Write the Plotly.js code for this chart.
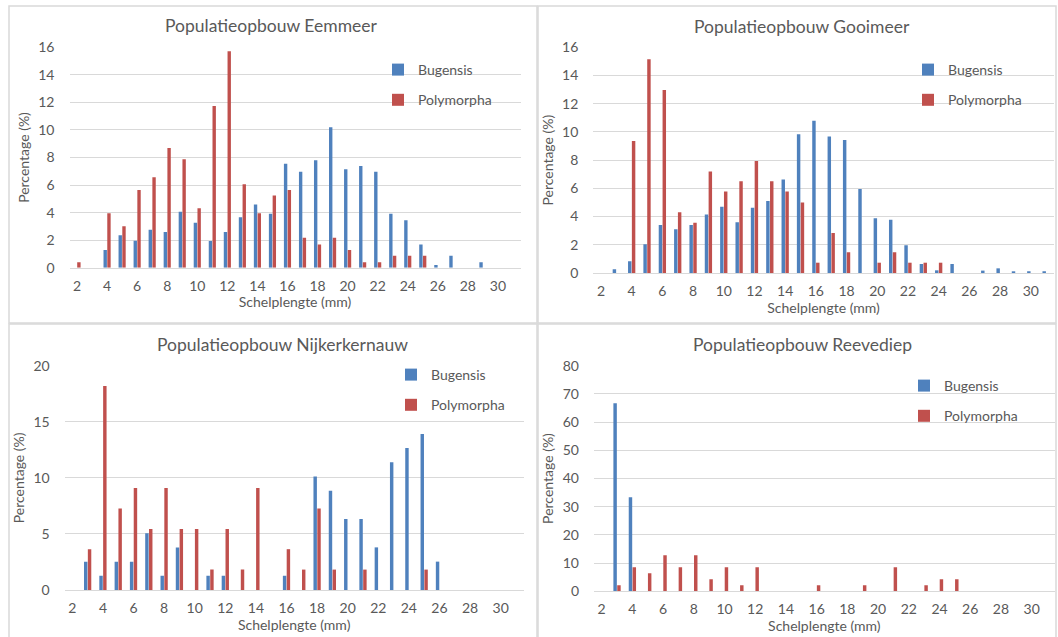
<!DOCTYPE html>
<html>
<head>
<meta charset="utf-8">
<script src="https://cdn.plot.ly/plotly-3.0.1.min.js"></script>
<style>html,body{margin:0;padding:0;background:#fff;}#chart{width:1058px;height:637px;}</style>
</head>
<body>
<div id="chart"></div>
<script>
// Shell length categories (mm)
const lengths = [2,3,4,5,6,7,8,9,10,11,12,13,14,15,16,17,18,19,20,21,22,23,24,25,26,27,28,29,30,31];
const tickLabels = [2,4,6,8,10,12,14,16,18,20,22,24,26,28,30];

// Eemmeer
const eemBugensis   = [0,0,1.28,2.35,1.96,2.76,2.59,4.07,3.27,1.94,2.59,3.66,4.58,3.92,7.55,6.97,7.8,10.19,7.14,7.38,6.97,3.92,3.44,1.69,0.2,0.87,0,0.39,0,0];
const eemPolymorpha = [0.39,0,3.95,3.0,5.64,6.56,8.69,7.87,4.31,11.74,15.71,6.05,3.95,5.25,5.64,2.18,1.69,2.18,1.28,0.39,0.39,0.87,0.87,0.87,0,0,0,0,0,0];

// Gooimeer
const gooBugensis   = [0,0.26,0.83,2.03,3.4,3.1,3.4,4.14,4.7,3.6,4.62,5.1,6.62,9.83,10.8,9.67,9.43,5.96,3.88,3.78,1.96,0.64,0.19,0.64,0,0.17,0.33,0.1,0.1,0.1];
const gooPolymorpha = [0,0,9.36,15.15,12.98,4.3,3.57,7.19,5.78,6.5,7.94,6.5,5.78,5.0,0.73,2.84,1.47,0,0.73,1.47,0.73,0.73,0.73,0,0,0,0,0,0,0];

// Nijkerkernauw
const nijBugensis   = [0,2.53,1.27,2.53,2.53,5.06,1.27,3.8,0,1.27,1.27,0,0,0,1.27,0,10.13,8.86,6.33,6.33,3.8,11.39,12.66,13.92,2.53,0,0,0,0,0];
const nijPolymorpha = [0,3.64,18.18,7.27,9.09,5.45,9.09,5.45,5.45,1.82,5.45,1.82,9.09,0,3.64,1.82,7.27,1.82,0,1.82,0,0,0,1.82,0,0,0,0,0,0];

// Reevediep
const reeBugensis   = [0,66.67,33.33,0,0,0,0,0,0,0,0,0,0,0,0,0,0,0,0,0,0,0,0,0,0,0,0,0,0,0];
const reePolymorpha = [0,2.13,8.51,6.38,12.77,8.51,12.77,4.26,8.51,2.13,8.51,0,0,0,2.13,0,0,2.13,0,8.51,0,2.13,4.26,4.26,0,0,0,0,0,0];

const panelTitles = ['Populatieopbouw Eemmeer','Populatieopbouw Gooimeer','Populatieopbouw Nijkerkernauw','Populatieopbouw Reevediep'];
const seriesNames = ['Bugensis','Polymorpha'];

const W = 1058, H = 637;
const px = v => v / W;
const py = v => 1 - v / H;
const BLUE = '#4F81BD', RED = '#C0504D', TXT = '#595959', GRID = '#D9D9D9';
const FONT = 'Lato, "Open Sans", sans-serif';

const panels = [
  {b: eemBugensis, p: eemPolymorpha, ax: '', x0: 69.5, x1: 520.5, y0: 267.7, y1: 47.3, ymax: 16, dtick: 2, legX: 378, legY: 54},
  {b: gooBugensis, p: gooPolymorpha, ax: '2', x0: 593.3, x1: 1053.8, y0: 273, y1: 47.3, ymax: 16, dtick: 2, legX: 908, legY: 54},
  {b: nijBugensis, p: nijPolymorpha, ax: '3', x0: 64.7, x1: 523.6, y0: 590, y1: 365.7, ymax: 20, dtick: 5, legX: 391, legY: 359},
  {b: reeBugensis, p: reePolymorpha, ax: '4', x0: 594, x1: 1054.7, y0: 591.3, y1: 365.7, ymax: 80, dtick: 10, legX: 904, legY: 370}
];

const data = [];
const layout = {
  width: W, height: H,
  margin: {l: 0, r: 0, t: 0, b: 0},
  paper_bgcolor: '#fff', plot_bgcolor: '#fff',
  font: {family: FONT, color: TXT, size: 14},
  barmode: 'group', bargap: 0.5, bargroupgap: 0.1,
  annotations: [], shapes: []
};

panels.forEach((P, i) => {
  const legName = i === 0 ? 'legend' : 'legend' + (i + 1);
  const xa = 'x' + P.ax, ya = 'y' + P.ax;
  [P.b, P.p].forEach((vals, k) => {
    data.push({
      type: 'bar', x: lengths, y: vals, name: seriesNames[k],
      marker: {color: k === 0 ? BLUE : RED},
      xaxis: xa, yaxis: ya, legend: legName, legendgroup: 'g' + i + k,
      hoverinfo: 'x+y+name'
    });
  });
  layout['xaxis' + P.ax] = {
    domain: [px(P.x0), px(P.x1)], anchor: ya,
    range: [1.5, 31.5], tickmode: 'array', tickvals: tickLabels, ticktext: tickLabels.map(String),
    showgrid: false, zeroline: false, showline: true, linecolor: GRID, linewidth: 1,
    ticks: '', ticklabelstandoff: 5, tickfont: {size: 14, color: TXT},
    title: {text: 'Schelplengte (mm)', font: {size: 14, color: TXT}, standoff: 0}
  };
  layout['yaxis' + P.ax] = {
    domain: [py(P.y0), py(P.y1)], anchor: xa,
    range: [0, P.ymax], dtick: P.dtick, tick0: 0,
    showgrid: true, gridcolor: GRID, gridwidth: 1, zeroline: false, showline: false,
    ticks: '', ticklabelstandoff: 14, tickfont: {size: 14, color: TXT},
    title: {text: 'Percentage (%)', font: {size: 14, color: TXT}, standoff: 5}
  };
  layout[legName] = {
    x: px(P.legX), y: py(P.legY), xanchor: 'left', yanchor: 'top',
    bgcolor: 'rgba(0,0,0,0)', font: {size: 14, color: TXT},
    traceorder: 'grouped', tracegroupgap: 9, itemwidth: 30
  };
});

// Panel titles
const titlePos = [[271, 25], [802, 26], [282, 344], [802, 344]];
panelTitles.forEach((t, i) => {
  layout.annotations.push({
    text: t, xref: 'paper', yref: 'paper', x: px(titlePos[i][0]), y: py(titlePos[i][1]),
    xanchor: 'center', yanchor: 'middle', showarrow: false,
    font: {size: 17.5, color: TXT, family: FONT}
  });
});

// Chart frames
const frames = [[9, 6, 537, 323], [538, 6, 1056, 323], [9, 324, 537, 640], [538, 324, 1056, 640]];
frames.forEach(f => {
  layout.shapes.push({type: 'rect', xref: 'paper', yref: 'paper', x0: px(f[0]), x1: px(f[2]), y0: py(f[3]), y1: py(f[1]), line: {color: GRID, width: 1.5}, layer: 'below'});
});

Plotly.newPlot('chart', data, layout, {displayModeBar: false, staticPlot: false});
</script>
</body>
</html>
